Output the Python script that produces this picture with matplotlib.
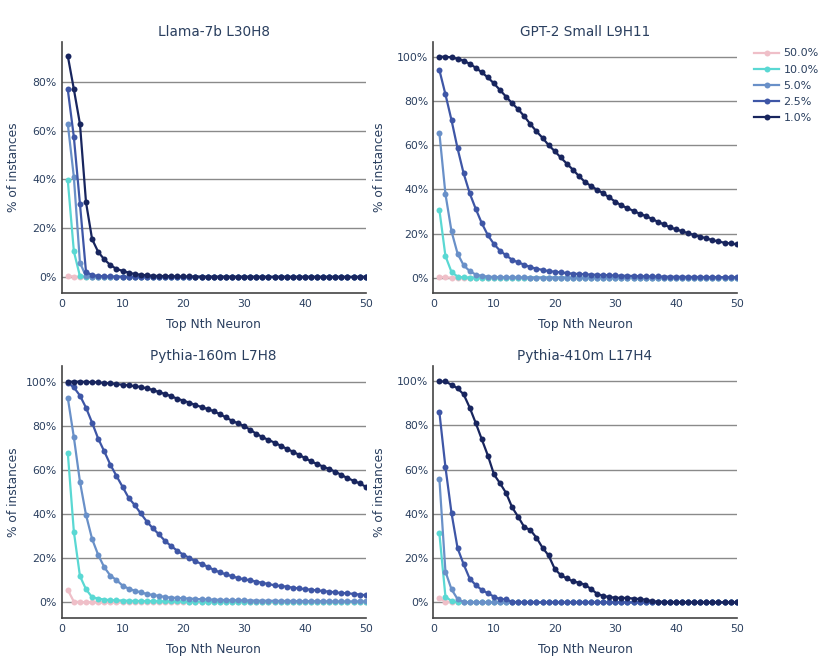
import matplotlib
matplotlib.use("Agg")
import matplotlib.pyplot as plt
from matplotlib.lines import Line2D

plt.rcParams['font.family'] = ['DejaVu Sans']

x_vals = list(range(1, 51))
series_labels = ["50.0%", "10.0%", "5.0%", "2.5%", "1.0%"]
series_colors = ["#efbfc8", "#5ad8d3", "#6990c8", "#3e56a6", "#18255e"]
panel_titles = ["Llama-7b L30H8", "GPT-2 Small L9H11", "Pythia-160m L7H8", "Pythia-410m L17H4"]
x_label = "Top Nth Neuron"
y_label = "% of instances"

# ---------- Llama-7b L30H8 ----------
llama_50 = [0.5, 0.1, 0.02, 0.0, 0.0, 0.0, 0.0, 0.0, 0.0, 0.0,
            0.0, 0.0, 0.0, 0.0, 0.0, 0.0, 0.0, 0.0, 0.0, 0.0,
            0.0, 0.0, 0.0, 0.0, 0.0, 0.0, 0.0, 0.0, 0.0, 0.0,
            0.0, 0.0, 0.0, 0.0, 0.0, 0.0, 0.0, 0.0, 0.0, 0.0,
            0.0, 0.0, 0.0, 0.0, 0.0, 0.0, 0.0, 0.0, 0.0, 0.0]
llama_10 = [39.7, 10.5, 0.3, 0.05, 0.01, 0.0, 0.0, 0.0, 0.0, 0.0,
            0.0, 0.0, 0.0, 0.0, 0.0, 0.0, 0.0, 0.0, 0.0, 0.0,
            0.0, 0.0, 0.0, 0.0, 0.0, 0.0, 0.0, 0.0, 0.0, 0.0,
            0.0, 0.0, 0.0, 0.0, 0.0, 0.0, 0.0, 0.0, 0.0, 0.0,
            0.0, 0.0, 0.0, 0.0, 0.0, 0.0, 0.0, 0.0, 0.0, 0.0]
llama_5 = [62.8, 41.0, 5.9, 0.2, 0.1, 0.05, 0.03, 0.02, 0.01, 0.01,
           0.0, 0.0, 0.0, 0.0, 0.0, 0.0, 0.0, 0.0, 0.0, 0.0,
           0.0, 0.0, 0.0, 0.0, 0.0, 0.0, 0.0, 0.0, 0.0, 0.0,
           0.0, 0.0, 0.0, 0.0, 0.0, 0.0, 0.0, 0.0, 0.0, 0.0,
           0.0, 0.0, 0.0, 0.0, 0.0, 0.0, 0.0, 0.0, 0.0, 0.0]
llama_2_5 = [76.9, 57.4, 30.0, 2.0, 0.8, 0.4, 0.3, 0.2, 0.15, 0.1,
             0.1, 0.08, 0.06, 0.05, 0.04, 0.03, 0.03, 0.02, 0.02, 0.02,
             0.01, 0.01, 0.01, 0.01, 0.01, 0.0, 0.0, 0.0, 0.0, 0.0,
             0.0, 0.0, 0.0, 0.0, 0.0, 0.0, 0.0, 0.0, 0.0, 0.0,
             0.0, 0.0, 0.0, 0.0, 0.0, 0.0, 0.0, 0.0, 0.0, 0.0]
llama_1 = [90.7, 77.0, 62.8, 30.6, 15.5, 10.3, 7.2, 4.9, 3.3, 2.5,
           1.8, 1.2, 0.9, 0.7, 0.5, 0.4, 0.35, 0.3, 0.25, 0.2,
           0.2, 0.15, 0.15, 0.1, 0.1, 0.1, 0.1, 0.1, 0.08, 0.08,
           0.07, 0.07, 0.06, 0.06, 0.05, 0.05, 0.05, 0.04, 0.04, 0.04,
           0.03, 0.03, 0.03, 0.03, 0.02, 0.02, 0.02, 0.02, 0.02, 0.02]

# ---------- GPT-2 Small L9H11 ----------
gpt2_50 = [0.5, 0.1, 0.05, 0.01, 0.0, 0.0, 0.0, 0.0, 0.0, 0.0,
           0.0, 0.0, 0.0, 0.0, 0.0, 0.0, 0.0, 0.0, 0.0, 0.0,
           0.0, 0.0, 0.0, 0.0, 0.0, 0.0, 0.0, 0.0, 0.0, 0.0,
           0.0, 0.0, 0.0, 0.0, 0.0, 0.0, 0.0, 0.0, 0.0, 0.0,
           0.0, 0.0, 0.0, 0.0, 0.0, 0.0, 0.0, 0.0, 0.0, 0.0]
gpt2_10 = [30.8, 9.8, 2.6, 0.5, 0.1, 0.05, 0.02, 0.01, 0.0, 0.0,
           0.0, 0.0, 0.0, 0.0, 0.0, 0.0, 0.0, 0.0, 0.0, 0.0,
           0.0, 0.0, 0.0, 0.0, 0.0, 0.0, 0.0, 0.0, 0.0, 0.0,
           0.0, 0.0, 0.0, 0.0, 0.0, 0.0, 0.0, 0.0, 0.0, 0.0,
           0.0, 0.0, 0.0, 0.0, 0.0, 0.0, 0.0, 0.0, 0.0, 0.0]
gpt2_5 = [65.6, 37.9, 21.0, 10.9, 5.6, 3.0, 1.4, 0.8, 0.5, 0.3,
          0.25, 0.2, 0.15, 0.1, 0.1, 0.08, 0.07, 0.06, 0.05, 0.05,
          0.04, 0.04, 0.03, 0.03, 0.03, 0.02, 0.02, 0.02, 0.02, 0.02,
          0.01, 0.01, 0.01, 0.01, 0.01, 0.01, 0.01, 0.01, 0.01, 0.01,
          0.0, 0.0, 0.0, 0.0, 0.0, 0.0, 0.0, 0.0, 0.0, 0.0]
gpt2_2_5 = [94.0, 83.0, 71.3, 58.5, 47.2, 38.2, 31.1, 24.6, 19.2, 15.2,
            12.2, 10.1, 8.1, 6.9, 5.9, 4.8, 4.1, 3.5, 3.0, 2.7,
            2.4, 2.1, 1.8, 1.7, 1.5, 1.4, 1.3, 1.2, 1.1, 1.0,
            0.9, 0.85, 0.8, 0.7, 0.65, 0.6, 0.55, 0.5, 0.45, 0.4,
            0.4, 0.35, 0.35, 0.3, 0.3, 0.25, 0.25, 0.2, 0.2, 0.2]
gpt2_1 = [100.0, 100.0, 99.7, 99.1, 98.2, 96.8, 95.0, 92.9, 90.6, 87.9,
          84.9, 81.9, 78.9, 76.2, 73.0, 69.5, 66.2, 63.3, 60.0, 57.3,
          54.4, 51.6, 48.9, 46.0, 43.3, 41.5, 39.8, 38.2, 36.3, 34.4,
          32.7, 31.5, 30.2, 29.0, 27.9, 26.7, 25.3, 24.1, 22.8, 21.9,
          21.0, 20.1, 19.3, 18.6, 17.8, 17.0, 16.4, 15.8, 15.5, 15.1]

# ---------- Pythia-160m L7H8 ----------
p160_50 = [5.6, 0.3, 0.1, 0.05, 0.03, 0.02, 0.01, 0.01, 0.0, 0.0,
           0.0, 0.0, 0.0, 0.0, 0.0, 0.0, 0.0, 0.0, 0.0, 0.0,
           0.0, 0.0, 0.0, 0.0, 0.0, 0.0, 0.0, 0.0, 0.0, 0.0,
           0.0, 0.0, 0.0, 0.0, 0.0, 0.0, 0.0, 0.0, 0.0, 0.0,
           0.0, 0.0, 0.0, 0.0, 0.0, 0.0, 0.0, 0.0, 0.0, 0.0]
p160_10 = [67.8, 32.0, 11.9, 5.9, 2.3, 1.7, 1.2, 1.0, 0.9, 0.8,
           0.7, 0.6, 0.6, 0.5, 0.5, 0.5, 0.4, 0.4, 0.4, 0.4,
           0.3, 0.3, 0.3, 0.3, 0.3, 0.3, 0.3, 0.3, 0.2, 0.2,
           0.2, 0.2, 0.2, 0.2, 0.2, 0.2, 0.2, 0.2, 0.2, 0.2,
           0.2, 0.2, 0.2, 0.2, 0.2, 0.2, 0.2, 0.2, 0.2, 0.2]
p160_5 = [92.7, 74.8, 54.7, 39.6, 28.7, 21.5, 15.9, 12.1, 10.1, 7.6,
          6.2, 5.3, 4.5, 3.8, 3.3, 2.9, 2.4, 2.1, 2.0, 1.8,
          1.7, 1.5, 1.4, 1.3, 1.2, 1.1, 1.0, 1.0, 0.9, 0.9,
          0.8, 0.8, 0.7, 0.7, 0.7, 0.6, 0.6, 0.6, 0.5, 0.5,
          0.5, 0.5, 0.5, 0.4, 0.4, 0.4, 0.4, 0.4, 0.4, 0.4]
p160_2_5 = [99.5, 97.4, 93.7, 88.2, 81.4, 74.2, 68.4, 62.4, 57.3, 52.4,
            47.4, 44.1, 40.3, 36.6, 33.5, 30.8, 27.8, 25.5, 23.4, 21.6,
            20.1, 18.6, 17.4, 16.2, 14.7, 13.6, 12.7, 11.8, 11.0, 10.4,
            10.0, 9.4, 8.8, 8.3, 7.7, 7.4, 7.1, 6.6, 6.3, 6.0,
            5.7, 5.4, 5.1, 4.8, 4.5, 4.2, 4.1, 3.8, 3.5, 3.2]
p160_1 = [100.0, 100.0, 100.0, 99.9, 99.8, 99.7, 99.4, 99.2, 98.9, 98.6,
          98.3, 98.0, 97.6, 97.0, 96.2, 95.3, 94.4, 93.4, 92.3, 91.4,
          90.5, 89.4, 88.5, 87.6, 86.6, 85.3, 83.8, 82.3, 81.1, 79.9,
          78.2, 76.4, 74.9, 73.6, 72.4, 71.0, 69.6, 68.3, 66.9, 65.4,
          63.9, 62.7, 61.5, 60.4, 59.2, 57.7, 56.3, 55.1, 53.9, 52.4]

# ---------- Pythia-410m L17H4 ----------
p410_50 = [2.0, 0.3, 0.1, 0.02, 0.0, 0.0, 0.0, 0.0, 0.0, 0.0,
           0.0, 0.0, 0.0, 0.0, 0.0, 0.0, 0.0, 0.0, 0.0, 0.0,
           0.0, 0.0, 0.0, 0.0, 0.0, 0.0, 0.0, 0.0, 0.0, 0.0,
           0.0, 0.0, 0.0, 0.0, 0.0, 0.0, 0.0, 0.0, 0.0, 0.0,
           0.0, 0.0, 0.0, 0.0, 0.0, 0.0, 0.0, 0.0, 0.0, 0.0]
p410_10 = [31.2, 2.6, 0.6, 0.1, 0.02, 0.0, 0.0, 0.0, 0.0, 0.0,
           0.0, 0.0, 0.0, 0.0, 0.0, 0.0, 0.0, 0.0, 0.0, 0.0,
           0.0, 0.0, 0.0, 0.0, 0.0, 0.0, 0.0, 0.0, 0.0, 0.0,
           0.0, 0.0, 0.0, 0.0, 0.0, 0.0, 0.0, 0.0, 0.0, 0.0,
           0.0, 0.0, 0.0, 0.0, 0.0, 0.0, 0.0, 0.0, 0.0, 0.0]
p410_5 = [55.9, 13.9, 5.9, 1.5, 0.1, 0.05, 0.0, 0.0, 0.0, 0.0,
          0.0, 0.0, 0.0, 0.0, 0.0, 0.0, 0.0, 0.0, 0.0, 0.0,
          0.0, 0.0, 0.0, 0.0, 0.0, 0.0, 0.0, 0.0, 0.0, 0.0,
          0.0, 0.0, 0.0, 0.0, 0.0, 0.0, 0.0, 0.0, 0.0, 0.0,
          0.0, 0.0, 0.0, 0.0, 0.0, 0.0, 0.0, 0.0, 0.0, 0.0]
p410_2_5 = [86.0, 61.1, 40.4, 24.5, 17.2, 10.7, 7.8, 5.6, 4.1, 2.6,
            1.4, 1.4, 0.2, 0.1, 0.05, 0.02, 0.01, 0.0, 0.0, 0.0,
            0.0, 0.0, 0.0, 0.0, 0.0, 0.0, 0.0, 0.0, 0.0, 0.0,
            0.0, 0.0, 0.0, 0.0, 0.0, 0.0, 0.0, 0.0, 0.0, 0.0,
            0.0, 0.0, 0.0, 0.0, 0.0, 0.0, 0.0, 0.0, 0.0, 0.0]
p410_1 = [99.8, 99.8, 98.3, 96.7, 94.0, 88.0, 81.0, 73.6, 66.3, 57.8,
          53.8, 49.4, 42.9, 38.6, 34.0, 32.7, 29.2, 24.7, 21.2, 15.2,
          12.3, 10.8, 9.5, 8.9, 8.0, 6.0, 3.9, 2.9, 2.4, 2.1,
          2.0, 2.0, 1.7, 1.5, 1.2, 0.6, 0.3, 0.2, 0.1, 0.1,
          0.05, 0.05, 0.03, 0.02, 0.02, 0.01, 0.01, 0.0, 0.0, 0.0]

panel_data = [
    [llama_50, llama_10, llama_5, llama_2_5, llama_1],
    [gpt2_50, gpt2_10, gpt2_5, gpt2_2_5, gpt2_1],
    [p160_50, p160_10, p160_5, p160_2_5, p160_1],
    [p410_50, p410_10, p410_5, p410_2_5, p410_1],
]
panel_yticks = [
    [0, 20, 40, 60, 80],
    [0, 20, 40, 60, 80, 100],
    [0, 20, 40, 60, 80, 100],
    [0, 20, 40, 60, 80, 100],
]
x_ticks = [0, 10, 20, 30, 40, 50]

# layout (pixels) and y ranges
W, H = 830, 664
panel_rects = [
    (61.7, 41.7, 365.7, 293.3),
    (433.3, 41.7, 736.7, 293.3),
    (61.7, 366.0, 365.7, 618.3),
    (433.3, 366.0, 736.7, 618.3),
]
ylabel_x_px = [14, 379, 14, 379]
panel_ylims = [(-6.7, 96.5), (-7.06, 106.8), (-7.25, 107.1), (-7.2, 106.8)]

TEXT = "#2a3f5f"
fig = plt.figure(figsize=(W / 100, H / 100), dpi=100)

for i in range(4):
    l, t, r, b = panel_rects[i]
    wpx, hpx = r - l, b - t
    ax = fig.add_axes([l / W, 1 - b / H, wpx / W, hpx / H])
    for s in range(5):
        ax.plot(x_vals, panel_data[i][s], color=series_colors[s], lw=1.6,
                marker="o", ms=4.3, markeredgewidth=0, label=series_labels[s],
                zorder=3 + s, solid_joinstyle="round")
    ax.set_xlim(0, 50)
    ax.set_ylim(*panel_ylims[i])
    ax.set_yticks(panel_yticks[i])
    ax.set_yticklabels([f"{v}%" for v in panel_yticks[i]])
    ax.set_xticks(x_ticks)
    ax.tick_params(length=0, labelsize=7.8, labelcolor=TEXT)
    ax.tick_params(axis="y", pad=3.5)
    ax.tick_params(axis="x", pad=4)
    for v in panel_yticks[i]:
        ax.axhline(v, color="#8a8a8a", lw=1.0, zorder=1)
    for side in ["top", "right"]:
        ax.spines[side].set_visible(False)
    for side in ["left", "bottom"]:
        ax.spines[side].set_color("#444444")
        ax.spines[side].set_linewidth(1.2)
    ax.set_title(panel_titles[i], fontsize=9.8, color=TEXT, pad=4)
    ax.set_xlabel(x_label, fontsize=8.8, color=TEXT)
    ax.set_ylabel(y_label, fontsize=8.8, color=TEXT)
    ax.xaxis.set_label_coords(0.5, -(325 - 293.3) / hpx)
    ax.xaxis.label.set_va("center")
    ax.yaxis.set_label_coords(-(l - ylabel_x_px[i]) / wpx, 0.5)
    ax.yaxis.label.set_va("center")

handles = [Line2D([0], [0], color=series_colors[s], lw=1.6, marker="o", ms=4.3,
                  markeredgewidth=0) for s in range(5)]
fig.legend(handles, series_labels, loc="upper left",
           bbox_to_anchor=(750 / W, 1 - 44 / H), frameon=False,
           fontsize=8, labelcolor=TEXT, handlelength=2.2, handletextpad=0.4,
           labelspacing=0.55, borderaxespad=0)

fig.savefig("out.png", dpi=100, facecolor="white")
